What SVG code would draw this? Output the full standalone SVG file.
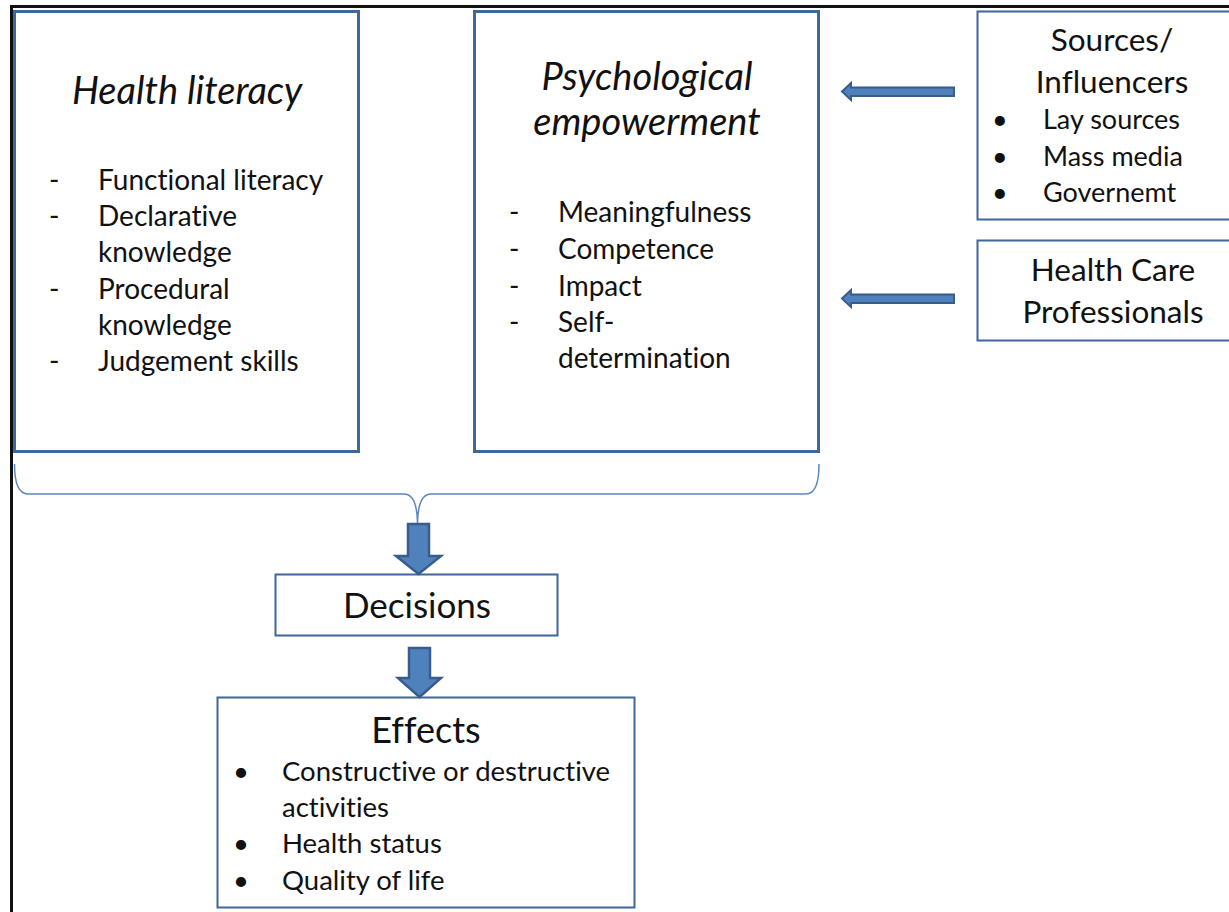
<svg xmlns="http://www.w3.org/2000/svg" width="1229" height="912" viewBox="0 0 1229 912">
<style>
.box{fill:#fff;stroke:#3f679c;stroke-width:3}
.thin{fill:none;stroke:#5b86c0;stroke-width:1.5}
.arr{fill:#4f81bd;stroke:#385d8a;stroke-width:2.5;stroke-linejoin:miter}
.t{font-family:Lato,"Open Sans",sans-serif;fill:#111;font-variant-ligatures:none}
.it{font-style:italic}
</style>
<rect x="0" y="0" width="1229" height="912" fill="#fff"/>
<path d="M11.5 912 V6.5 H1229" fill="none" stroke="#111" stroke-width="3"/>
<g id="health-literacy">
<rect class="box" x="14.5" y="11.5" width="344" height="440"/>
<text class="t it" x="187" y="104" font-size="38" text-anchor="middle">Health literacy</text>
<g class="t" font-size="28">
<text x="49" y="190">-</text><text x="98" y="190">Functional literacy</text>
<text x="49" y="226">-</text><text x="98" y="226">Declarative</text>
<text x="98" y="262">knowledge</text>
<text x="49" y="299">-</text><text x="98" y="299">Procedural</text>
<text x="98" y="335">knowledge</text>
<text x="49" y="371">-</text><text x="98" y="371">Judgement skills</text>
</g>
</g>
<g id="psychological-empowerment">
<rect class="box" x="474.5" y="11.5" width="344" height="440"/>
<text class="t it" x="647" y="90" font-size="38" text-anchor="middle">Psychological</text>
<text class="t it" x="647" y="135" font-size="38" text-anchor="middle">empowerment</text>
<g class="t" font-size="28">
<text x="509" y="222">-</text><text x="558" y="222">Meaningfulness</text>
<text x="509" y="259">-</text><text x="558" y="259">Competence</text>
<text x="509" y="296">-</text><text x="558" y="296">Impact</text>
<text x="509" y="332">-</text><text x="558" y="332">Self-</text>
<text x="558" y="368">determination</text>
</g>
</g>
<g id="sources">
<rect class="box" x="977.5" y="11.5" width="260" height="208" style="stroke-width:2"/>
<text class="t" x="1112" y="51" font-size="31.5" text-anchor="middle">Sources/</text>
<text class="t" x="1112" y="93" font-size="31.5" text-anchor="middle">Influencers</text>
<g class="t" font-size="27">
<text x="992" y="129">•</text><text x="1043" y="129">Lay sources</text>
<text x="992" y="166">•</text><text x="1043" y="166">Mass media</text>
<text x="992" y="202">•</text><text x="1043" y="202">Governemt</text>
</g>
</g>
<g id="health-care-professionals">
<rect class="box" x="977.5" y="240.5" width="260" height="100" style="stroke-width:2"/>
<text class="t" x="1113" y="281" font-size="31.5" text-anchor="middle">Health Care</text>
<text class="t" x="1113" y="323" font-size="31.5" text-anchor="middle">Professionals</text>
</g>
<g id="decisions">
<rect class="box" x="275.5" y="574.5" width="282" height="61" style="stroke-width:2"/>
<text class="t" x="417" y="618" font-size="35" text-anchor="middle">Decisions</text>
</g>
<g id="effects">
<rect class="box" x="217.5" y="697.5" width="417" height="210" style="stroke-width:2"/>
<text class="t" x="426" y="743" font-size="36" text-anchor="middle">Effects</text>
<g class="t" font-size="27.5">
<text x="233" y="781">•</text><text x="282" y="781">Constructive or destructive</text>
<text x="282" y="817">activities</text>
<text x="233" y="853">•</text><text x="282" y="853">Health status</text>
<text x="233" y="890">•</text><text x="282" y="890">Quality of life</text>
</g>
</g>
<g id="connectors">
<path class="thin" d="M14.5 464 Q14.5 494 28 494 H404 Q417 494 417.5 523 Q418 494 431 494 H806 Q819 494 819 464"/>
<path class="arr" d="M408 524 H429 V556 H441 L418.5 574 L396 556 H408 Z"/>
<path class="arr" d="M409 648 H430 V678 H441 L419.5 697 L398 678 H409 Z"/>
<path class="arr" d="M954 87.5 V96 H851 V100 L842 91.5 L851 83 V87.5 Z" style="stroke-width:2"/>
<path class="arr" d="M954 294.5 V303 H851 V307 L842 298.5 L851 290 V294.5 Z" style="stroke-width:2"/>
</g>
</svg>
